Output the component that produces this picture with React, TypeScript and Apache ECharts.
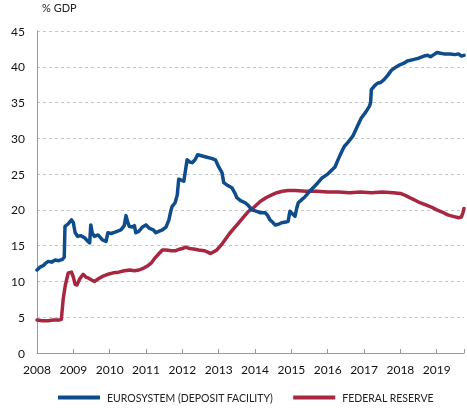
import React, { useEffect, useRef } from "react";
import * as echarts from "echarts";

const yearTicks = [2008, 2009, 2010, 2011, 2012, 2013, 2014, 2015, 2016, 2017, 2018, 2019];

const euroDates = [
  2008.0, 2008.08, 2008.17, 2008.25, 2008.31, 2008.4, 2008.5, 2008.6, 2008.7, 2008.75,
  2008.77, 2008.85, 2008.95, 2009.0, 2009.05, 2009.12, 2009.2, 2009.31, 2009.4, 2009.45,
  2009.48, 2009.52, 2009.58, 2009.68, 2009.8, 2009.9, 2009.95, 2010.04, 2010.15, 2010.31,
  2010.4, 2010.45, 2010.5, 2010.54, 2010.62, 2010.68, 2010.72, 2010.8, 2010.9, 2011.0,
  2011.1, 2011.2, 2011.27, 2011.35, 2011.45, 2011.55, 2011.63, 2011.68, 2011.72, 2011.8,
  2011.86, 2011.9, 2011.95, 2012.04, 2012.1, 2012.13, 2012.2, 2012.27, 2012.35, 2012.42,
  2012.5, 2012.65, 2012.8, 2012.91, 2013.0, 2013.09, 2013.14, 2013.25, 2013.36, 2013.45,
  2013.5, 2013.6, 2013.73, 2013.82, 2013.91, 2014.05, 2014.15, 2014.28, 2014.35, 2014.41,
  2014.5, 2014.55, 2014.65, 2014.73, 2014.85, 2014.91, 2014.96, 2015.02, 2015.1, 2015.15,
  2015.19, 2015.3, 2015.37, 2015.5, 2015.64, 2015.73, 2015.85, 2016.0, 2016.1, 2016.2,
  2016.3, 2016.4, 2016.46, 2016.55, 2016.69, 2016.8, 2016.92, 2017.05, 2017.15, 2017.18,
  2017.2, 2017.3, 2017.37, 2017.45, 2017.55, 2017.65, 2017.75, 2017.83, 2017.95, 2018.1,
  2018.19, 2018.35, 2018.5, 2018.65, 2018.75, 2018.83, 2018.92, 2019.01, 2019.1, 2019.2,
  2019.37, 2019.5, 2019.6, 2019.68, 2019.75,
];
const euroValues = [
  11.6, 12.0, 12.2, 12.6, 12.8, 12.7, 13.0, 12.9, 13.1, 13.4,
  17.7, 18.0, 18.6, 18.2, 16.8, 16.3, 16.4, 16.1, 15.6, 15.4,
  17.9, 16.8, 16.3, 16.5, 15.8, 15.6, 16.8, 16.7, 16.9, 17.2,
  17.8, 19.2, 18.2, 17.7, 17.6, 17.8, 16.8, 17.0, 17.6, 17.9,
  17.4, 17.2, 16.8, 17.0, 17.2, 17.6, 18.6, 19.8, 20.5, 21.0,
  22.1, 24.3, 24.2, 24.0, 26.0, 27.0, 26.7, 26.6, 27.0, 27.7,
  27.6, 27.4, 27.2, 27.0, 26.0, 25.2, 23.8, 23.4, 23.1, 22.3,
  21.7, 21.3, 21.0, 20.6, 20.0, 19.8, 19.6, 19.6, 19.2, 18.6,
  18.2, 17.9, 18.0, 18.2, 18.3, 18.4, 19.8, 19.5, 19.1, 20.3,
  21.0, 21.5, 21.8, 22.6, 23.3, 23.8, 24.5, 25.0, 25.5, 26.0,
  27.2, 28.3, 28.9, 29.4, 30.3, 31.5, 32.8, 33.7, 34.5, 35.0,
  36.8, 37.4, 37.7, 37.8, 38.2, 38.8, 39.5, 39.8, 40.2, 40.5,
  40.8, 41.0, 41.2, 41.5, 41.6, 41.4, 41.7, 42.0, 41.9, 41.8,
  41.8, 41.7, 41.8, 41.5, 41.6,
];

const fedDates = [
  2008.0, 2008.15, 2008.3, 2008.45, 2008.6, 2008.67, 2008.72, 2008.78, 2008.86, 2008.95,
  2009.0, 2009.05, 2009.1, 2009.18, 2009.27, 2009.35, 2009.4, 2009.5, 2009.58, 2009.7,
  2009.8, 2009.95, 2010.1, 2010.25, 2010.4, 2010.55, 2010.68, 2010.81, 2010.95, 2011.05,
  2011.15, 2011.25, 2011.36, 2011.45, 2011.55, 2011.7, 2011.82, 2011.92, 2012.0, 2012.09,
  2012.2, 2012.35, 2012.45, 2012.6, 2012.7, 2012.77, 2012.85, 2012.95, 2013.0, 2013.1,
  2013.2, 2013.3, 2013.4, 2013.55, 2013.7, 2013.82, 2014.0, 2014.15, 2014.3, 2014.46,
  2014.6, 2014.75, 2014.91, 2015.1, 2015.4, 2015.7, 2016.0, 2016.3, 2016.6, 2016.9,
  2017.2, 2017.5, 2017.8, 2018.0, 2018.15, 2018.3, 2018.5, 2018.7, 2018.85, 2019.0,
  2019.15, 2019.3, 2019.45, 2019.6, 2019.68, 2019.72, 2019.75,
];
const fedValues = [
  4.6, 4.5, 4.5, 4.6, 4.6, 4.7, 7.5, 9.5, 11.2, 11.3,
  10.6, 9.6, 9.5, 10.4, 11.0, 10.6, 10.5, 10.2, 10.0, 10.4,
  10.7, 11.0, 11.2, 11.3, 11.5, 11.6, 11.5, 11.6, 11.9, 12.2,
  12.6, 13.3, 13.9, 14.4, 14.4, 14.3, 14.3, 14.5, 14.6, 14.8,
  14.6, 14.5, 14.4, 14.3, 14.1, 13.9, 14.1, 14.4, 14.7, 15.3,
  16.0, 16.7, 17.3, 18.2, 19.1, 19.8, 20.5, 21.2, 21.7, 22.1,
  22.4, 22.6, 22.7, 22.7, 22.6, 22.6, 22.5, 22.5, 22.4, 22.5,
  22.4, 22.5, 22.4, 22.3, 22.0, 21.6, 21.1, 20.7, 20.4, 20.0,
  19.7, 19.3, 19.1, 18.9, 19.0, 19.6, 20.2,
];

const BLUE = "#0f4c8c";
const RED = "#a6273f";
const FONT = "Lato, 'Noto Sans', sans-serif";

export default function App() {
  const ref = useRef<HTMLDivElement>(null);

  useEffect(() => {
    if (!ref.current) return;
    const chart = echarts.init(ref.current, undefined, { renderer: "svg" });
    const euroData = euroDates.map((d, i) => [d, euroValues[i]]);
    const fedData = fedDates.map((d, i) => [d, fedValues[i]]);
    chart.setOption({
      animation: false,
      textStyle: { fontFamily: FONT },
      grid: { left: 37, right: 0, top: 31, bottom: 55, containLabel: false },
      graphic: [
        {
          type: "text",
          left: 42,
          top: 2,
          style: { text: "% GDP", fontSize: 11, fill: "#222", fontFamily: FONT },
        },
      ],
      legend: {
        left: 53,
        top: 387,
        icon: "rect",
        itemWidth: 42,
        itemHeight: 4,
        itemGap: 20,
        textStyle: { fontSize: 10.5, color: "#222", fontFamily: FONT, padding: [0, 0, 0, 2] },
        data: ["EUROSYSTEM (DEPOSIT FACILITY)", "FEDERAL RESERVE"],
      },
      xAxis: {
        type: "value",
        min: 2008,
        max: 2019.75,
        interval: 1,
        axisLine: { show: true, lineStyle: { color: "#999", width: 1 } },
        axisTick: { show: true, inside: true, length: 4, lineStyle: { color: "#999" } },
        splitLine: { show: false },
        axisLabel: {
          fontSize: 12,
          color: "#111",
          margin: 10,
          fontFamily: FONT,
          formatter: (v: number) => (yearTicks.includes(Math.round(v * 100) / 100) ? String(v) : ""),
        },
      },
      yAxis: {
        type: "value",
        min: 0,
        max: 45,
        interval: 5,
        axisLine: { show: true, lineStyle: { color: "#999", width: 1 } },
        axisTick: { show: false },
        splitLine: { show: true, lineStyle: { color: "#c4c4c4", type: [3, 3], width: 1 } },
        axisLabel: { fontSize: 12, color: "#111", margin: 12, fontFamily: FONT },
      },
      series: [
        {
          name: "EUROSYSTEM (DEPOSIT FACILITY)",
          type: "line",
          data: euroData,
          showSymbol: false,
          symbol: "none",
          lineStyle: { color: BLUE, width: 3.5, join: "round", cap: "round" },
          itemStyle: { color: BLUE },
          z: 3,
        },
        {
          name: "FEDERAL RESERVE",
          type: "line",
          data: fedData,
          showSymbol: false,
          symbol: "none",
          lineStyle: { color: RED, width: 3.5, join: "round", cap: "round" },
          itemStyle: { color: RED },
          z: 2,
        },
      ],
    });
    return () => chart.dispose();
  }, []);

  return (
    <div
      ref={ref}
      style={{ position: "fixed", left: 0, top: 0, width: 467, height: 408 }}
    />
  );
}
